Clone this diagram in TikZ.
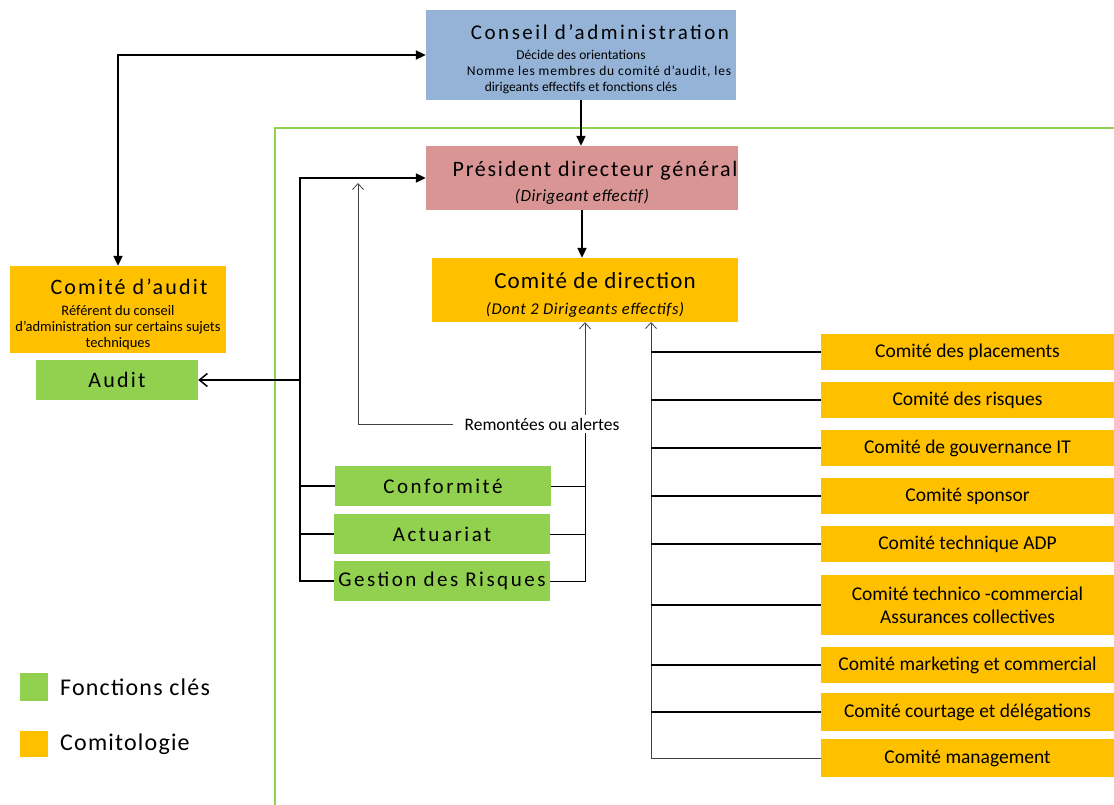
\documentclass[tikz,border=0pt]{standalone}
\usepackage{fontspec}
\setmainfont{Carlito}
\usetikzlibrary{arrows.meta}
\definecolor{cableu}{HTML}{95B3D7}
\definecolor{pdgrose}{HTML}{D99594}
\definecolor{comorange}{HTML}{FFC000}
\definecolor{clevert}{HTML}{92D050}
\newcommand{\titre}[2]{\fontsize{#1}{#1}\selectfont\addfontfeature{LetterSpace=#2}}

\begin{document}
\begin{tikzpicture}[x=1pt, y=-1pt,
  boite/.style={inner sep=0pt, align=center},
  comite/.style={boite, fill=comorange, minimum width=293pt, minimum height=36pt, font=\fontsize{19.5}{23}\selectfont},
  cle/.style={boite, fill=clevert, text width=216pt, minimum height=40pt, font=\titre{21}{12}},
  fort/.style={line width=2pt, -{Triangle[length=10pt, width=9pt]}},
  ouvert/.style={line width=0.8pt, black!75, -{Straight Barb[length=6pt, width=11pt]}},
  tige/.style={line width=2pt}]
\useasboundingbox (0,0) rectangle (1114,805);
%cadre
\draw[clevert, line width=2pt] (275,805) -- (275,128) -- (1114,128);

\node[boite, fill=cableu, minimum width=310pt, minimum height=90pt, font=\fontsize{13.5}{16}\selectfont] at (581,55) (conseil) {\rule{0pt}{24pt}\hspace*{38pt}{\titre{21}{12}Conseil d’administration}\\[4pt]Décide des orientations\\\hspace*{36pt}{\addfontfeature{LetterSpace=6}Nomme les membres du comité d’audit, les}\\dirigeants effectifs et fonctions clés};
\node[boite, fill=pdgrose, minimum width=312pt, minimum height=64pt, font=\fontsize{17}{20}\selectfont] at (582,178) (pdg) {\rule{0pt}{24pt}\hspace*{26pt}{\titre{22}{8}Président directeur général}\\[5pt]{\itshape\addfontfeature{LetterSpace=3}(Dirigeant effectif)}};
\node[boite, fill=comorange, minimum width=306pt, minimum height=64pt, font=\fontsize{16.5}{20}\selectfont] at (585,290) (codir) {\rule{0pt}{25pt}\hspace*{20pt}{\titre{23}{5}Comité de direction}\\[6pt]{\itshape\addfontfeature{LetterSpace=4}(Dont 2 Dirigeants effectifs)}};
\node[boite, fill=comorange, minimum width=216pt, minimum height=87pt, font=\fontsize{14.5}{16}\selectfont] at (118,309.5) (caudit) {\rule{0pt}{26pt}\hspace*{22pt}{\titre{22}{10}Comité d’audit}\\[5pt]Référent du conseil\\d’administration sur certains sujets\\techniques};
\node[boite, fill=clevert, minimum width=162pt, minimum height=40pt, font=\titre{22}{10}] at (117,380) (audit) {Audit};

%fonctions cles
\node[cle] at (443,486) (conf) {Conformité};
\node[cle] at (442,534) (actu) {Actuariat};
\node[cle] at (442,581) (gdr) {Gestion des Risques};
\node[boite, fill=white, inner sep=3pt, font=\fontsize{17.5}{20}\selectfont] at (542,424) (remon) {Remontées ou alertes};

%comites
\node[comite] at (967.5,352) (plac) {Comité des placements};
\node[comite] at (967.5,400) (risq) {Comité des risques};
\node[comite] at (967.5,448) (gouv) {Comité de gouvernance IT};
\node[comite] at (967.5,496) (spon) {Comité sponsor};
\node[comite] at (967.5,544) (adp) {Comité technique ADP};
\node[comite, minimum height=60pt] at (967.5,605) (tcom) {Comité technico -commercial\\Assurances collectives};
\node[comite] at (967.5,665) (mark) {Comité  marketing et commercial};
\node[comite, minimum height=38pt] at (967.5,712) (court) {Comité courtage et délégations};
\node[comite, minimum height=38pt] at (967.5,758) (mgmt) {Comité management};

%legende
\node[boite, fill=clevert, minimum width=28pt, minimum height=28pt] at (34,687) (legcle) {};
\node[anchor=west, inner sep=0pt, font=\titre{24}{5}] at (60,687) (legcletxt) {Fonctions clés};
\node[boite, fill=comorange, minimum width=28pt, minimum height=26pt] at (34,744) (legcom) {};
\node[anchor=west, inner sep=0pt, font=\titre{24}{5}] at (60,744) (legcomtxt) {Comitologie};

\coordinate (busG) at (300,582);
\coordinate (busD) at (585,582);
\coordinate (remH) at (358,183);
\coordinate (busC) at (651,322);

\draw[fort] (conseil.south) -- (conseil.south |- pdg.north);
\draw[fort] (pdg.south) -- (pdg.south |- codir.north);
\draw[line width=2pt, {Triangle[length=10pt, width=9pt]}-{Triangle[length=10pt, width=9pt]}] (caudit.north) |- (conseil.west);
\draw[fort] (busG) |- (pdg.west);
\draw[line width=1.5pt, -{Straight Barb[length=8pt, width=13pt]}] (busG |- audit.east) -- (audit.east);
\foreach \f in {conf,actu,gdr} \draw[tige] (busG |- \f.west) -- (\f.west);
\foreach \f in {conf,actu,gdr} \draw[line width=1pt] (\f.east) -- (busD |- \f.east);
\draw[line width=1pt] (busD) -- (busD |- remon.south);
\draw[ouvert] (busD |- remon.north) -- (busD |- codir.south);
\draw[ouvert] ([xshift=-8pt]remon.west) -| (remH);
\draw[ouvert] (mgmt.west) -| (busC);
\foreach \c in {plac,risq,gouv,spon,adp,tcom,mark,court} \draw[tige] (busC |- \c.west) -- (\c.west);
\end{tikzpicture}
\end{document}
